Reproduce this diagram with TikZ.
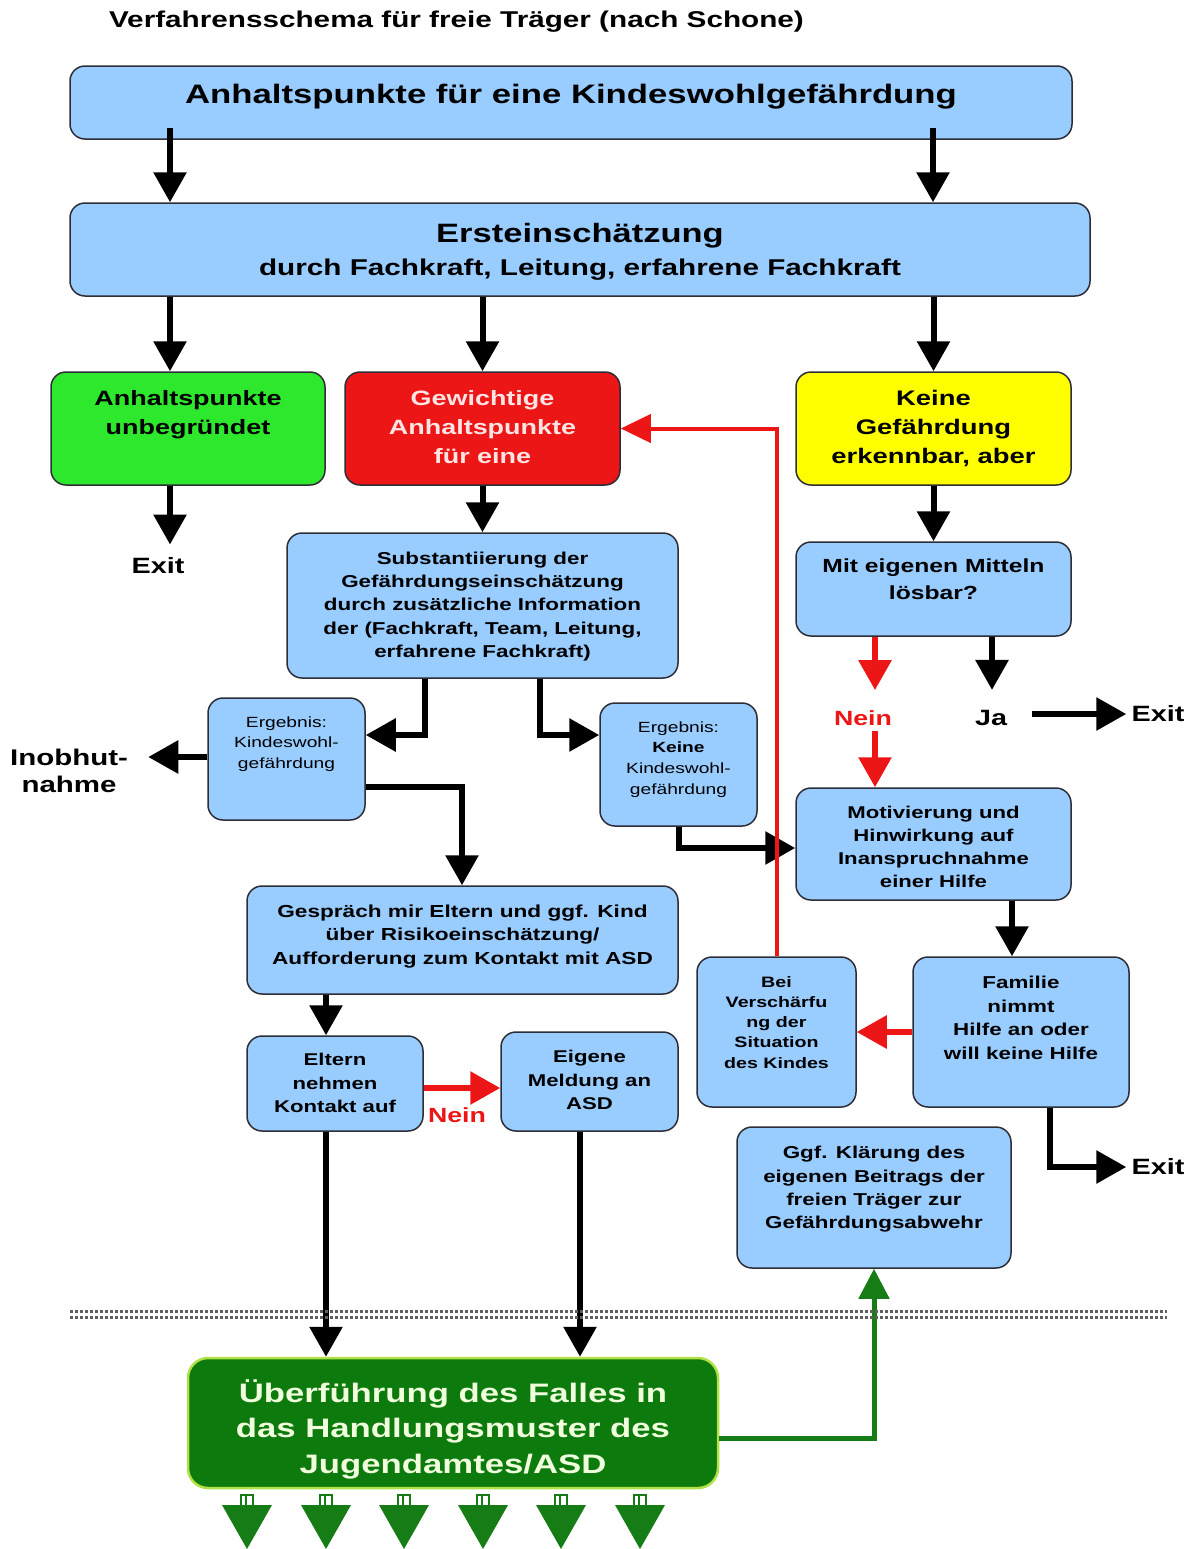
\documentclass[tikz,border=0pt]{standalone}
\usepackage{fontspec}
\setmainfont{Liberation Sans}[FakeStretch=1.3]
\usetikzlibrary{arrows.meta}

\definecolor{boxblue}{RGB}{153,204,255}
\definecolor{boxline}{RGB}{45,45,55}
\definecolor{litegreen}{RGB}{45,232,45}
\definecolor{alarmred}{RGB}{236,22,22}
\definecolor{redtext}{RGB}{255,228,228}
\definecolor{signyellow}{RGB}{255,255,0}
\definecolor{asdgreen}{RGB}{12,122,12}
\definecolor{asdrim}{RGB}{175,225,70}
\definecolor{asdtext}{RGB}{240,255,220}
\definecolor{arrgreen}{RGB}{22,124,22}
\definecolor{sepgray}{RGB}{95,95,95}

\newdimen\px \px=0.2mm
% text in a box: width, height, top gap (px), size, skip, text
\newcommand\btxt[6]{\parbox[c][#2\px][t]{#1\px}{\centering\fontsize{#4}{#5}\selectfont\bfseries\vspace*{#3\px}#6\par}}

\begin{document}
\begin{tikzpicture}[x=0.2mm,y=-0.2mm,
  box/.style={draw=boxline,line width=0.3mm,rounded corners=3mm,inner sep=0pt,fill=boxblue},
  lbl/.style={font=\bfseries\fontsize{12.6}{15.4}\selectfont,inner sep=1mm,align=center},
  neinlbl/.style={lbl,text=alarmred,font=\bfseries\fontsize{11.7}{14}\selectfont},
  arr/.style={line width=1.2mm,-{Triangle[width=6.4mm,length=6mm]}},
  redarr/.style={arr,alarmred},
  greenarr/.style={arrgreen,line width=1mm,-{Triangle[width=6mm,length=6mm]}}]
\useasboundingbox (0,0) rectangle (1195,1549);

\node[lbl] (ttl) at (456.5,22) {\fontsize{13}{15}\selectfont Verfahrensschema für freie Träger (nach Schone)};

% boxes
\node[box] (a) at (571,102.5) {\btxt{1002}{73}{18}{15.2}{18}{Anhaltspunkte für eine Kindeswohlgefährdung}};
\node[box] (b) at (580,249.5) {\btxt{1020}{93}{20}{15.1}{18}{Ersteinschätzung\par\fontsize{13}{18.8}\selectfont durch Fachkraft, Leitung, erfahrene Fachkraft}};
\node[box,fill=litegreen] (c) at (188,428.5) {\btxt{274}{113}{18}{11.8}{17}{Anhaltspunkte\\unbegründet}};
\node[box,fill=alarmred,text=redtext] (d) at (482.5,428.5) {\btxt{275}{113}{18}{11.8}{16.5}{Gewichtige\\Anhaltspunkte\\für eine}};
\node[box,fill=signyellow] (e) at (933.5,428.5) {\btxt{275}{113}{18}{12}{16.5}{Keine\\Gefährdung\\erkennbar, aber}};
\node[box] (f) at (482.5,605.5) {\btxt{391}{145}{18.6}{9.8}{13.3}{Substantiierung der\\Gefährdungseinschätzung\\durch zusätzliche Information\\der (Fachkraft, Team, Leitung,\\erfahrene Fachkraft)}};
\node[box] (g) at (933.5,589) {\btxt{275}{94}{17}{10.8}{15.4}{Mit eigenen Mitteln\\lösbar?}};
\node[box] (i) at (286.5,759) {\btxt{157}{122}{18.5}{8.4}{11.7}{\mdseries Ergebnis:\\Kindeswohl-\\gefährdung}};
\node[box] (j) at (678.5,764.5) {\btxt{157}{123}{18.5}{8.4}{11.8}{\mdseries Ergebnis:\\\textbf{Keine}\\Kindeswohl-\\gefährdung}};
\node[box] (h) at (933.5,844) {\btxt{275}{112}{17.7}{9.7}{13.1}{Motivierung und\\Hinwirkung auf\\Inanspruchnahme\\einer Hilfe}};
\node[box] (k) at (462.5,940) {\btxt{431}{108}{18.5}{9.9}{13.4}{Gespräch mir Eltern und ggf. Kind\\über Risikoeinschätzung/\\Aufforderung zum Kontakt mit ASD}};
\node[box] (l) at (776.5,1032) {\btxt{159}{150}{19.3}{8.6}{11.5}{Bei\\Verschärfu\\ng der\\Situation\\des Kindes}};
\node[box] (m) at (1021,1032) {\btxt{216}{150}{19.5}{9.8}{13.3}{Familie\\nimmt\\Hilfe an oder\\will keine Hilfe}};
\node[box] (n) at (335,1083.5) {\btxt{176}{95}{17.5}{9.7}{13.4}{Eltern\\nehmen\\Kontakt auf}};
\node[box] (o) at (589.5,1081.5) {\btxt{177}{99}{18.5}{9.7}{13.4}{Eigene\\Meldung an\\ASD}};
\node[box] (p) at (874,1197.5) {\btxt{274}{141}{19.5}{9.8}{13.1}{Ggf. Klärung des\\eigenen Beitrags der\\freien Träger zur\\Gefährdungsabwehr}};
\node[box,fill=asdgreen,draw=asdrim,text=asdtext,line width=0.5mm,rounded corners=4mm] (q) at (453,1423) {\btxt{530}{130}{22}{15.2}{20}{Überführung des Falles in\\das Handlungsmuster des\\Jugendamtes/ASD}};

% free labels
\node[lbl] (ex1) at (158,566) {Exit};
\node[lbl] (ex2) at (1158,714) {Exit};
\node[lbl] (ex3) at (1158,1167) {Exit};
\node[lbl] (ja) at (991,718) {Ja};
\node[neinlbl] (nein1) at (863,718) {Nein};
\node[neinlbl] (nein2) at (457,1115) {Nein};
\node[lbl,font=\bfseries\fontsize{12.9}{15.4}\selectfont] (inob) at (69,771) {Inobhut-\\nahme};

% connectors
\draw[arr,shorten <=-2.4mm] (a.south -| 170,0) -- (b.north -| 170,0);
\draw[arr,shorten <=-2.4mm] (a.south -| 933,0) -- (b.north -| 933,0);
\draw[arr] (b.south -| 170,0) -- (c.north -| 170,0);
\draw[arr] (b.south -| d.north) -- (d.north);
\draw[arr] (b.south -| e.north) -- (e.north);
\draw[arr,shorten >=1.6mm] (c.south -| 170,0) -- (ex1.north -| 170,0);
\draw[arr] (d.south) -- (f.north);
\draw[arr] (e.south) -- (g.north);
\draw[redarr,shorten >=3mm] (g.south -| 875,0) -- (nein1.north -| 875,0);
\draw[redarr] (nein1.south -| 875,0) -- (h.north -| 875,0);
\draw[arr,shorten >=3mm] (g.south -| 992,0) -- (ja.north -| 992,0);
\draw[arr] (ex2.west -| 1032,0) -- (ex2.west);
\draw[arr] (f.south -| 425,0) |- (i.east |- 0,735);
\draw[arr] (f.south -| 540,0) |- (j.west |- 0,735);
\draw[arr,shorten >=3mm] (i.west |- 0,757) -- (inob.east |- 0,757);
\draw[arr] (i.east |- 0,787) -| (k.north -| 462,0);
\draw[arr] (j.south -| 679,0) |- (h.west |- 0,848);
\draw[arr] (h.south -| 1012,0) -- (m.north -| 1012,0);
\draw[redarr] (m.west) -- (l.east);
\draw[alarmred,line width=0.8mm,-{Triangle[width=5.6mm,length=6mm]}] (l.north) |- (d.east);
\draw[arr] (m.south -| 1050,0) |- (ex3.west);
\draw[arr] (k.south -| 326,0) -- (n.north -| 326,0);
\draw[redarr] (n.east |- 0,1088) -- (o.west |- 0,1088);
\draw[arr] (n.south -| 326,0) -- (q.north -| 326,0);
\draw[arr] (o.south -| 580,0) -- (q.north -| 580,0);
\draw[greenarr] (q.east |- 0,1438) -| (p.south);

% separator
\draw[sepgray,line width=0.6mm,dash pattern=on 0.5mm off 0.5mm] (70,1311) -- (1167,1311) (70,1317) -- (1167,1317);

% outflow arrows
\foreach \x in {247,326,404,483,561,640}{
  \draw[arrgreen,line width=0.3mm] (\x-7,1495) -- (\x+7,1495) (\x-6,1495) -- (\x-6,1506) (\x-1,1495) -- (\x-1,1506) (\x+6,1495) -- (\x+6,1506);
  \fill[arrgreen] (\x-25,1505) -- (\x+25,1505) -- (\x,1549) -- cycle;
}
\end{tikzpicture}
\end{document}
